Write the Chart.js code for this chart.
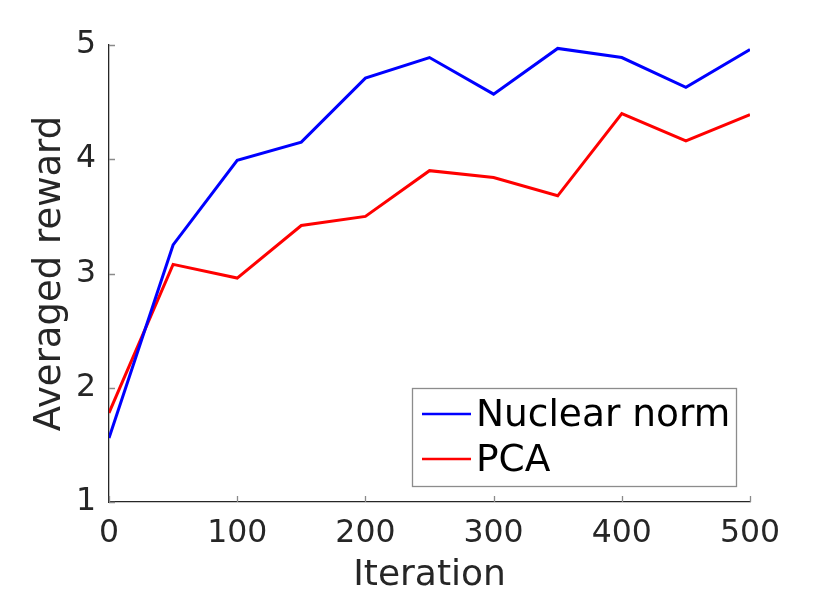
<!DOCTYPE html>
<html>
<head>
<meta charset="utf-8">
<script src="https://cdn.jsdelivr.net/npm/chart.js@4"></script>
<style>
  html, body { margin: 0; padding: 0; background: #fff; }
  #wrap { width: 830px; height: 595px; }
</style>
</head>
<body>
<div id="wrap"><canvas id="c" width="830" height="595"></canvas></div>
<script>
// ---- data ----
const iterations = [0, 50, 100, 150, 200, 250, 300, 350, 400, 450, 500];
const nuclearNorm = [1.56, 3.25, 3.99, 4.15, 4.71, 4.89, 4.57, 4.97, 4.89, 4.63, 4.96];
const pca = [1.78, 3.08, 2.96, 3.42, 3.50, 3.90, 3.84, 3.68, 4.40, 4.16, 4.39];
const seriesNames = ['Nuclear norm', 'PCA'];
const xTicks = [0, 100, 200, 300, 400, 500];
const yTicks = [1, 2, 3, 4, 5];
const xTitle = 'Iteration';
const yTitle = 'Averaged reward';

const FONT = 'DejaVu Sans';
const AXIS = '#262626';

const insideTicks = {
  id: 'insideTicks',
  afterDatasetsDraw(chart) {
    const ctx = chart.ctx, a = chart.chartArea;
    const xs = chart.scales.x, ys = chart.scales.y;
    ctx.save();
    ctx.strokeStyle = '#8a8a8a';
    ctx.lineWidth = 1.3;
    ctx.beginPath();
    xTicks.forEach(v => {
      const px = Math.round(xs.getPixelForValue(v)) + 0.5;
      ctx.moveTo(px, a.bottom); ctx.lineTo(px, a.bottom - 6);
    });
    yTicks.forEach(v => {
      const py = Math.round(ys.getPixelForValue(v)) + 0.5;
      ctx.moveTo(a.left, py); ctx.lineTo(a.left + 6, py);
    });
    ctx.stroke();
    ctx.restore();
  }
};

const boxLegend = {
  id: 'boxLegend',
  afterDraw(chart) {
    const ctx = chart.ctx, a = chart.chartArea;
    const w = 324, h = 98;
    const right = a.right - 14, bottom = a.bottom - 16;
    const left = right - w, top = bottom - h;
    ctx.save();
    ctx.fillStyle = '#fff';
    ctx.fillRect(left, top, w, h);
    ctx.strokeStyle = '#8c8c8c';
    ctx.lineWidth = 1.3;
    ctx.strokeRect(left + 0.5, top + 0.5, w, h);
    ctx.font = '37.5px "' + FONT + '"';
    ctx.textBaseline = 'middle';
    ctx.textAlign = 'left';
    chart.data.datasets.forEach((ds, i) => {
      const y = top + 26 + i * 45;
      ctx.strokeStyle = ds.borderColor;
      ctx.lineWidth = 2.5;
      ctx.beginPath();
      ctx.moveTo(left + 10, y); ctx.lineTo(left + 59, y);
      ctx.stroke();
      ctx.fillStyle = '#000';
      ctx.fillText(ds.label, left + 64, y + 2);
    });
    ctx.restore();
  }
};

new Chart(document.getElementById('c'), {
  type: 'line',
  data: {
    datasets: [
      { label: seriesNames[0], data: iterations.map((x, i) => ({ x, y: nuclearNorm[i] })),
        borderColor: '#0000ff', backgroundColor: '#0000ff', borderWidth: 3, pointRadius: 0, tension: 0 },
      { label: seriesNames[1], data: iterations.map((x, i) => ({ x, y: pca[i] })),
        borderColor: '#ff0000', backgroundColor: '#ff0000', borderWidth: 3, pointRadius: 0, tension: 0 }
    ]
  },
  options: {
    responsive: false,
    animation: false,
    devicePixelRatio: 1,
    layout: { padding: { left: 0, right: 80, top: 45, bottom: 0 } },
    plugins: { legend: { display: false }, tooltip: { enabled: false } },
    scales: {
      x: {
        type: 'linear', min: 0, max: 500,
        afterBuildTicks: s => { s.ticks = xTicks.map(v => ({ value: v })); },
        afterFit: s => { s.height = 93; },
        grid: { display: false, drawTicks: false },
        border: { display: true, color: AXIS, width: 1.3 },
        ticks: { color: AXIS, font: { family: FONT, size: 31.5 }, padding: 13, maxRotation: 0 },
        title: { display: true, text: xTitle, color: AXIS, font: { family: FONT, size: 36 }, padding: { top: 0, bottom: -2 } }
      },
      y: {
        type: 'linear', min: 1, max: 5,
        afterBuildTicks: s => { s.ticks = yTicks.map(v => ({ value: v })); },
        afterFit: s => { s.width = 109; },
        grid: { display: false, drawTicks: false },
        border: { display: true, color: AXIS, width: 1.3 },
        ticks: { color: AXIS, font: { family: FONT, size: 31.5 }, padding: 13 },
        title: { display: true, text: yTitle, color: AXIS, font: { family: FONT, size: 37 }, padding: { top: 28, bottom: 0 } }
      }
    }
  },
  plugins: [insideTicks, boxLegend]
});
</script>
</body>
</html>
